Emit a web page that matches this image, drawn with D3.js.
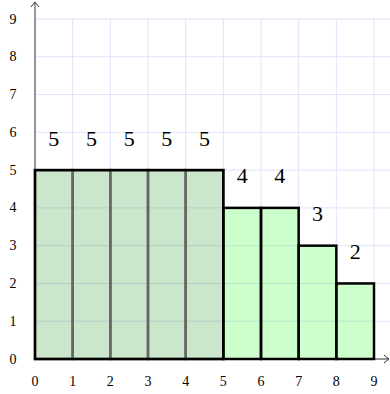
<!DOCTYPE html>
<html>
<head>
<meta charset="utf-8">
<script src="https://cdn.jsdelivr.net/npm/d3@7"></script>
<style>
  body { margin: 0; background: #fff; }
</style>
</head>
<body>
<div id="chart"></div>
<script>

// bars: [start, end, height]
const groupBars = [[0, 1, 5], [1, 2, 5], [2, 3, 5], [3, 4, 5], [4, 5, 5]];
const singleBars = [[5, 6, 4], [6, 7, 4], [7, 8, 3], [8, 9, 2]];
const xTicks = [0, 1, 2, 3, 4, 5, 6, 7, 8, 9];
const yTicks = [0, 1, 2, 3, 4, 5, 6, 7, 8, 9];

const width = 390;
const height = 394;
const serif = "'Liberation Serif', 'DejaVu Serif', 'Times New Roman', serif";

const svg = d3.select("#chart")
    .append("svg")
    .attr("width", width)
    .attr("height", height)
    .style("font-family", serif);

const x = d3.scaleLinear().domain([0, 9]).range([35, 374]);
const y = d3.scaleLinear().domain([0, 9]).range([359, 19]);

//GRID
svg.selectAll("line.vgrid")
    .data(xTicks)
    .enter().append("line")
    .attr("class", "vgrid")
    .attr("x1", d => x(d)).attr("x2", d => x(d))
    .attr("y1", y(0)).attr("y2", y(9))
    .attr("stroke", "#e2e2fb")
    .attr("stroke-width", 1);

svg.selectAll("line.hgrid")
    .data(yTicks)
    .enter().append("line")
    .attr("class", "hgrid")
    .attr("x1", x(0)).attr("x2", x(9.45))
    .attr("y1", d => y(d)).attr("y2", d => y(d))
    .attr("stroke", "#e2e2fb")
    .attr("stroke-width", 1);

//AXES
svg.append("line")
    .attr("x1", x(0)).attr("x2", x(0))
    .attr("y1", y(0)).attr("y2", 3)
    .attr("stroke", "#777").attr("stroke-width", 1.5);
svg.append("path")
    .attr("d", `M${x(0) - 4},7 L${x(0)},2 L${x(0) + 4},7`)
    .attr("fill", "none").attr("stroke", "#333").attr("stroke-width", 1);

svg.append("line")
    .attr("x1", x(0)).attr("x2", 388)
    .attr("y1", y(0)).attr("y2", y(0))
    .attr("stroke", "#777").attr("stroke-width", 1.5);
svg.append("path")
    .attr("d", `M384,${y(0) - 4} L389,${y(0)} L384,${y(0) + 4}`)
    .attr("fill", "none").attr("stroke", "#333").attr("stroke-width", 1);

//BARS
const group = svg.append("g");
group.selectAll("rect")
    .data(groupBars)
    .enter().append("rect")
    .attr("x", d => x(d[0]))
    .attr("y", d => y(d[2]))
    .attr("width", d => x(d[1]) - x(d[0]))
    .attr("height", d => y(0) - y(d[2]))
    .attr("fill", "green")
    .attr("fill-opacity", 0.2)
    .attr("stroke", "#666")
    .attr("stroke-width", 2.5);

// outline round the whole block
group.append("rect")
    .attr("x", x(groupBars[0][0]))
    .attr("y", y(d3.max(groupBars, d => d[2])))
    .attr("width", x(groupBars[groupBars.length - 1][1]) - x(groupBars[0][0]))
    .attr("height", y(0) - y(d3.max(groupBars, d => d[2])))
    .attr("fill", "none")
    .attr("stroke", "#000")
    .attr("stroke-width", 2.5);

svg.selectAll("rect.single")
    .data(singleBars)
    .enter().append("rect")
    .attr("class", "single")
    .attr("x", d => x(d[0]))
    .attr("y", d => y(d[2]))
    .attr("width", d => x(d[1]) - x(d[0]))
    .attr("height", d => y(0) - y(d[2]))
    .attr("fill", "lime")
    .attr("fill-opacity", 0.2)
    .attr("stroke", "#000")
    .attr("stroke-width", 2.5);

//VALUE LABELS
const allBars = groupBars.concat(singleBars);
svg.selectAll("text.val")
    .data(allBars)
    .enter().append("text")
    .attr("class", "val")
    .attr("x", d => x((d[0] + d[1]) / 2))
    .attr("y", d => y(d[2] + 0.85))
    .attr("text-anchor", "middle")
    .attr("dominant-baseline", "central")
    .attr("font-family", serif)
    .attr("font-size", 22)
    .text(d => d[2]);

//TICK LABELS
svg.selectAll("text.xt")
    .data(xTicks)
    .enter().append("text")
    .attr("class", "xt")
    .attr("x", d => x(d))
    .attr("y", 381)
    .attr("text-anchor", "middle")
    .attr("dominant-baseline", "central")
    .attr("font-family", serif)
    .attr("font-size", 14)
    .text(d => d);

svg.selectAll("text.yt")
    .data(yTicks)
    .enter().append("text")
    .attr("class", "yt")
    .attr("x", 13)
    .attr("y", d => y(d))
    .attr("text-anchor", "middle")
    .attr("dominant-baseline", "central")
    .attr("font-family", serif)
    .attr("font-size", 14)
    .text(d => d);

</script>
</body>
</html>
